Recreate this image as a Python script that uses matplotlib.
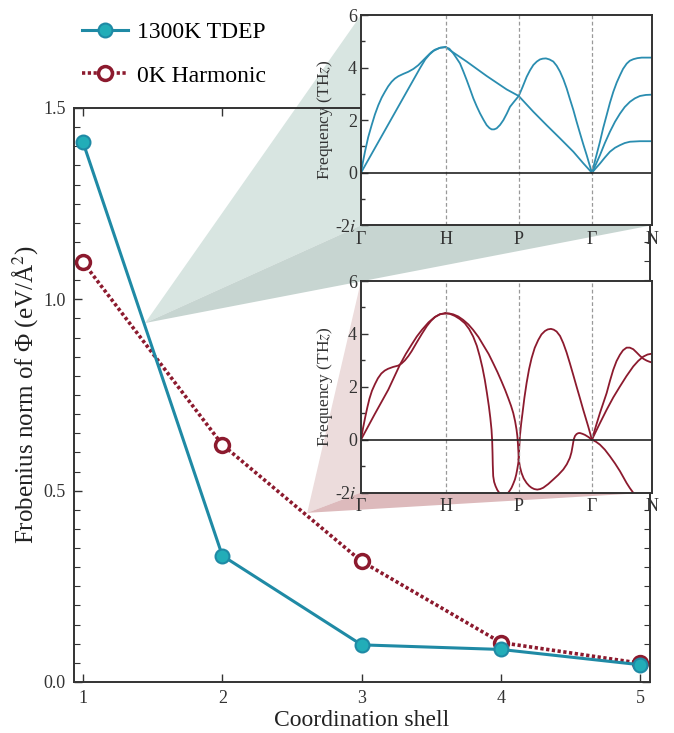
import matplotlib
matplotlib.use("Agg")
import matplotlib.pyplot as plt
import numpy as np
from matplotlib.patches import Polygon
from matplotlib.ticker import MultipleLocator

plt.rcParams['font.family'] = ['Liberation Serif', 'DejaVu Serif']
plt.rcParams['mathtext.fontset'] = 'stix'

# main panel data
shells = [1, 2, 3, 4, 5]
tdep_norm = [1.41, 0.33, 0.097, 0.085, 0.045]
harm_norm = [1.097, 0.62, 0.315, 0.103, 0.049]

# path coordinates of high-symmetry points (G-H-P-G-N, bcc)
kpts = [0, 1.0, 1.866, 2.732, 3.439]
klabels = ['Γ', 'H', 'P', 'Γ', 'N']

# 1300K TDEP dispersion branches, (k, THz)
tdep_gh_a = [(0, 0), (0.02, 0.36), (0.047, 0.80), (0.085, 1.35), (0.126, 1.81), (0.165, 2.22),
             (0.205, 2.57), (0.245, 2.86), (0.283, 3.08), (0.322, 3.29), (0.362, 3.46), (0.40, 3.58),
             (0.441, 3.67), (0.50, 3.76), (0.559, 3.84), (0.62, 3.95), (0.677, 4.09), (0.73, 4.26),
             (0.776, 4.41), (0.83, 4.58), (0.874, 4.68), (0.94, 4.76), (1.0, 4.78)]
tdep_gh_b = [(0, 0), (0.2, 1.14), (0.4, 2.28), (0.6, 3.42), (0.70, 3.99), (0.76, 4.31), (0.81, 4.50),
             (0.86, 4.64), (0.93, 4.75), (1.0, 4.78)]
tdep_hg_a = [(1.0, 4.78), (1.045, 4.72), (1.092, 4.54), (1.13, 4.36), (1.171, 4.16), (1.21, 3.86),
             (1.25, 3.53), (1.29, 3.18), (1.329, 2.83), (1.37, 2.52), (1.408, 2.26), (1.45, 2.01),
             (1.487, 1.81), (1.52, 1.70), (1.546, 1.65), (1.575, 1.65), (1.605, 1.69), (1.645, 1.82),
             (1.684, 2.0), (1.725, 2.25), (1.763, 2.51), (1.815, 2.72), (1.866, 2.92), (1.91, 3.25),
             (1.96, 3.65), (2.0, 3.90), (2.039, 4.10), (2.08, 4.23), (2.117, 4.31), (2.15, 4.34),
             (2.188, 4.35), (2.23, 4.31), (2.275, 4.23), (2.315, 4.07), (2.354, 3.85), (2.395, 3.55),
             (2.433, 3.21), (2.47, 2.82), (2.512, 2.39), (2.55, 1.95), (2.591, 1.50), (2.63, 1.08),
             (2.67, 0.67), (2.70, 0.34), (2.732, 0)]
tdep_hg_b = [(1.0, 4.78), (1.08, 4.60), (1.25, 4.23), (1.487, 3.68), (1.723, 3.17), (1.866, 2.92),
             (2.039, 2.32), (2.196, 1.81), (2.354, 1.31), (2.512, 0.80), (2.63, 0.36), (2.732, 0)]
tdep_gn_a = [(2.732, 0), (2.78, 0.60), (2.827, 1.18), (2.865, 1.70), (2.906, 2.19), (2.945, 2.66),
             (2.985, 3.08), (3.025, 3.43), (3.064, 3.71), (3.10, 3.95), (3.143, 4.15), (3.18, 4.26),
             (3.222, 4.32), (3.27, 4.36), (3.321, 4.38), (3.439, 4.38)]
tdep_gn_b = [(2.732, 0), (2.78, 0.33), (2.827, 0.67), (2.885, 1.13), (2.945, 1.56), (3.005, 1.94),
             (3.064, 2.25), (3.12, 2.50), (3.182, 2.70), (3.24, 2.83), (3.30, 2.92), (3.37, 2.96),
             (3.439, 2.97)]
tdep_gn_c = [(2.732, 0), (2.78, 0.18), (2.827, 0.35), (2.885, 0.58), (2.945, 0.80), (3.005, 0.95),
             (3.064, 1.05), (3.12, 1.13), (3.182, 1.18), (3.30, 1.20), (3.439, 1.20)]

# 0K harmonic dispersion branches (imaginary plotted negative)
harm_gh_a = [(0, 0), (0.025, 0.45), (0.05, 0.85), (0.075, 1.22), (0.1, 1.55), (0.13, 1.85),
             (0.165, 2.1), (0.20, 2.32), (0.24, 2.5), (0.28, 2.61), (0.32, 2.68), (0.38, 2.75),
             (0.44, 2.8), (0.48, 2.88), (0.52, 3.0), (0.56, 3.16), (0.6, 3.35), (0.66, 3.68),
             (0.72, 4.0), (0.78, 4.3), (0.83, 4.5), (0.88, 4.65), (0.93, 4.74), (1.0, 4.78)]
harm_gh_b = [(0, 0), (0.16, 0.95), (0.323, 1.89), (0.46, 2.83), (0.53, 3.24), (0.6, 3.6),
             (0.66, 3.90), (0.72, 4.15), (0.80, 4.44), (0.87, 4.63), (0.94, 4.75), (1.0, 4.78)]
harm_hp_a = [(1.0, 4.78), (1.045, 4.77), (1.091, 4.74), (1.15, 4.66), (1.209, 4.53), (1.27, 4.36),
             (1.327, 4.15), (1.39, 3.88), (1.446, 3.58), (1.51, 3.24), (1.564, 2.89), (1.615, 2.55),
             (1.663, 2.20), (1.705, 1.88), (1.742, 1.57), (1.775, 1.28), (1.801, 1.01), (1.823, 0.70),
             (1.84, 0.38), (1.85, 0.12), (1.856, -0.13), (1.862, -0.45), (1.866, -0.75)]
harm_hp_b = [(1.0, 4.78), (1.05, 4.76), (1.11, 4.68), (1.17, 4.56), (1.229, 4.40), (1.28, 4.18),
             (1.327, 3.90), (1.37, 3.55), (1.406, 3.14), (1.437, 2.72), (1.465, 2.26), (1.49, 1.76),
             (1.513, 1.26), (1.53, 0.82), (1.544, 0.38), (1.552, -0.05), (1.556, -0.50),
             (1.559, -0.95), (1.564, -1.38), (1.575, -1.60), (1.592, -1.76), (1.612, -1.90),
             (1.635, -2.01), (1.69, -2.26), (1.742, -2.01), (1.762, -1.92), (1.781, -1.82),
             (1.80, -1.68), (1.821, -1.51), (1.836, -1.33), (1.848, -1.13), (1.858, -0.94),
             (1.866, -0.75)]
harm_pg_a = [(1.866, -0.75), (1.872, -0.30), (1.88, 0.13), (1.894, 0.58), (1.911, 1.01), (1.933, 1.58),
             (1.959, 2.14), (1.988, 2.66), (2.018, 3.08), (2.055, 3.47), (2.097, 3.77), (2.135, 3.98),
             (2.176, 4.11), (2.21, 4.17), (2.247, 4.19), (2.28, 4.16), (2.314, 4.09), (2.355, 3.92),
             (2.393, 3.65), (2.432, 3.30), (2.471, 2.89), (2.51, 2.46), (2.55, 2.01), (2.59, 1.57),
             (2.629, 1.13), (2.66, 0.80), (2.688, 0.50), (2.71, 0.25), (2.732, 0)]
harm_pg_b = [(1.866, -0.75), (1.88, -1.02), (1.899, -1.26), (1.925, -1.47), (1.959, -1.64),
             (1.99, -1.75), (2.018, -1.82), (2.05, -1.87), (2.085, -1.89), (2.12, -1.87),
             (2.156, -1.82), (2.215, -1.68), (2.274, -1.51), (2.335, -1.33), (2.393, -1.13),
             (2.435, -0.93), (2.471, -0.69), (2.49, -0.48), (2.503, -0.25), (2.512, -0.08),
             (2.519, 0.03), (2.532, 0.14), (2.55, 0.21), (2.57, 0.245), (2.59, 0.25), (2.62, 0.22),
             (2.649, 0.18), (2.69, 0.10), (2.732, 0)]
harm_gn_a = [(2.732, 0), (2.78, 0.52), (2.827, 1.01), (2.866, 1.38), (2.906, 1.76), (2.945, 2.22),
             (2.984, 2.64), (3.023, 2.97), (3.063, 3.21), (3.10, 3.38), (3.142, 3.48), (3.18, 3.48),
             (3.221, 3.42), (3.26, 3.30), (3.30, 3.17), (3.34, 3.06), (3.379, 2.99), (3.41, 2.95),
             (3.439, 2.92)]
harm_gn_b = [(2.732, 0), (2.82, 0.58), (2.906, 1.13), (2.985, 1.60), (3.063, 2.01), (3.14, 2.40),
             (3.221, 2.77), (3.28, 2.98), (3.339, 3.14), (3.39, 3.22), (3.439, 3.25)]
harm_gn_c = [(2.732, 0), (2.78, -0.08), (2.827, -0.19), (2.885, -0.38), (2.945, -0.63),
             (3.005, -0.90), (3.063, -1.19), (3.10, -1.40), (3.142, -1.64), (3.18, -1.83),
             (3.221, -2.01), (3.26, -2.2)]

teal = '#1f8aa5'
teal_fill = '#22adb8'
red = '#8c1a2e'

fig = plt.figure(figsize=(6.74, 7.33), dpi=100)
ax = fig.add_axes([0.1098, 0.0696, 0.8546, 0.7831])

ax.plot(shells, tdep_norm, '-', color=teal, lw=2.2, marker='o', ms=10,
        mfc=teal_fill, mec=teal, mew=1.5, label='1300K TDEP', zorder=5)
ax.plot(shells, harm_norm, color=red, lw=2.6, ls=(0, (0.9, 0.7)), marker='o', ms=10,
        mfc='white', mec=red, mew=2.5, label='0K Harmonic', zorder=4)

ax.set_xlim(0.935, 5.07)
ax.set_ylim(0, 1.5)
ax.set_xticks(shells)
ax.yaxis.set_major_locator(MultipleLocator(0.5))
ax.yaxis.set_minor_locator(MultipleLocator(0.05))
ax.tick_params(which='both', direction='in', top=True, right=True, labelsize=13, colors='#333333')
ax.tick_params(which='major', length=6, width=1.0, pad=6)
ax.tick_params(which='minor', length=4, width=0.8)
for s in ax.spines.values():
    s.set_linewidth(1.4)
    s.set_color('#333333')
ax.set_xlabel('Coordination shell', fontsize=17, color='#222222', labelpad=2)
ax.set_ylabel('Frobenius norm of Φ (eV/Å$^{2}$)', fontsize=18, color='#222222', labelpad=2)

fig.legend(loc='upper left', bbox_to_anchor=(0.09, 1.0), frameon=False, fontsize=17,
           handlelength=1.95, labelspacing=0.95, handletextpad=0.4)

# insets
ins_top = fig.add_axes([0.5356, 0.6926, 0.4313, 0.2869])
ins_bot = fig.add_axes([0.5356, 0.3281, 0.4313, 0.2885])

tdep_branches = [tdep_gh_a, tdep_gh_b, tdep_hg_a, tdep_hg_b, tdep_gn_a, tdep_gn_b, tdep_gn_c]
harm_branches = [harm_gh_a, harm_gh_b, harm_hp_a, harm_hp_b, harm_pg_a, harm_pg_b,
                 harm_gn_a, harm_gn_b, harm_gn_c]

for ins, branches, col in [(ins_top, tdep_branches, '#2a8db0'), (ins_bot, harm_branches, red)]:
    for br in branches:
        arr = np.array(br)
        ins.plot(arr[:, 0], arr[:, 1], color=col, lw=1.3, solid_joinstyle='round')
    for k in kpts[1:4]:
        ins.axvline(k, color='#999999', ls='--', lw=0.9, dashes=(3, 2))
    ins.axhline(0, color='#222222', lw=1.2)
    ins.set_xlim(kpts[0], kpts[-1])
    ins.set_ylim(-2, 6)
    ins.set_xticks(kpts)
    ins.set_xticklabels(klabels)
    ins.set_yticks([-2, 0, 2, 4, 6])
    ins.set_yticklabels(['-2$i$', '0', '2', '4', '6'])
    ins.yaxis.set_minor_locator(MultipleLocator(1))
    ins.tick_params(axis='y', which='both', direction='in', labelsize=13, colors='#333333')
    ins.tick_params(axis='y', which='major', length=5, width=1.0, pad=3)
    ins.tick_params(axis='y', which='minor', length=3, width=1.0)
    ins.tick_params(axis='x', length=0, labelsize=13, pad=4, colors='#333333')
    for s in ins.spines.values():
        s.set_linewidth(1.4)
        s.set_color('#333333')
    ins.set_ylabel('Frequency (TH$z$)', fontsize=12.5, color='#333333', labelpad=0)

# projection wedges from the main curves to the insets
green_apex = (1.445, 0.938)
pink_apex = (2.609, 0.442)
to_data = ax.transData.inverted()
for ins, apex, c_light, c_dark in [(ins_top, green_apex, '#d8e5e1', '#c7d5d1'),
                                    (ins_bot, pink_apex, '#ecdcdc', '#ddbabc')]:
    tl = to_data.transform(ins.transAxes.transform((0, 1)))
    bl = to_data.transform(ins.transAxes.transform((0, 0)))
    br = to_data.transform(ins.transAxes.transform((1, 0)))
    ax.add_patch(Polygon([apex, tl, bl], closed=True, fc=c_light, ec='none', clip_on=False, zorder=1))
    ax.add_patch(Polygon([apex, bl, br], closed=True, fc=c_dark, ec='none', clip_on=False, zorder=1))

fig.savefig('out.png', dpi=100)
